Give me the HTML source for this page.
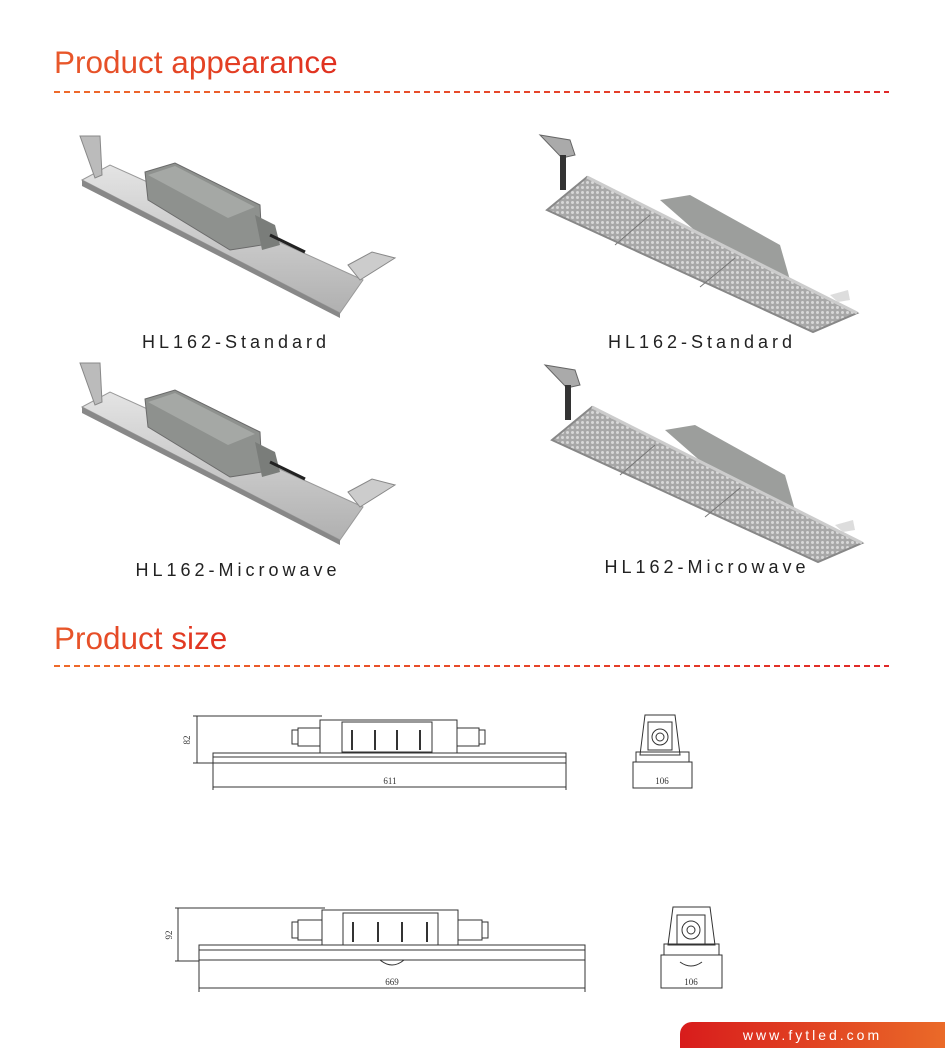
<!DOCTYPE html>
<html><head><meta charset="utf-8"><style>
html,body{margin:0;padding:0;background:#fff;}
body{width:945px;height:1048px;position:relative;overflow:hidden;font-family:"Liberation Sans",sans-serif;}
.t{position:absolute;left:54px;font-size:31.5px;color:#e8502a;background:linear-gradient(90deg,#e8582a,#e03020);-webkit-background-clip:text;background-clip:text;-webkit-text-fill-color:transparent;}
.lbl{position:absolute;font-size:18px;letter-spacing:4px;color:#222;white-space:nowrap;transform:translateX(-50%);}
.foot{position:absolute;left:680px;top:1022px;width:265px;height:26px;border-top-left-radius:12px;background:linear-gradient(90deg,#d81c1c,#ea6a28);color:#fff;font-size:14px;letter-spacing:3px;text-align:center;line-height:26px;}
svg{position:absolute;left:0;top:0;}
</style></head><body>
<div class="t" style="top:44px">Product appearance</div>
<div class="t" style="top:620px">Product size</div>
<svg width="945" height="1048" viewBox="0 0 945 1048">
<defs>
<linearGradient id="dg" gradientUnits="userSpaceOnUse" x1="54" y1="0" x2="889" y2="0"><stop offset="0" stop-color="#ee6a2a"/><stop offset="1" stop-color="#e02828"/></linearGradient>
<linearGradient id="mt" x1="0" y1="0" x2="0" y2="1"><stop offset="0" stop-color="#e4e4e4"/><stop offset="1" stop-color="#b0b0b0"/></linearGradient>
<pattern id="led" width="5" height="5" patternUnits="userSpaceOnUse"><rect width="5" height="5" fill="#a8a8a8"/><circle cx="2.5" cy="2.5" r="1.5" fill="#d8d8d8"/></pattern>
</defs>
<line x1="54" y1="92" x2="889" y2="92" stroke="url(#dg)" stroke-width="2" stroke-dasharray="6,4"/>
<line x1="54" y1="666" x2="889" y2="666" stroke="url(#dg)" stroke-width="2" stroke-dasharray="6,4"/>

<g id="lp">
<polygon points="82,180 110,165 363,280 340,313" fill="url(#mt)" stroke="#999" stroke-width="1"/>
<polygon points="82,180 340,313 340,318 82,186" fill="#888"/>
<polygon points="80,136 100,136 102,175 95,178" fill="#bbb" stroke="#888"/>
<polygon points="348,265 372,252 395,258 360,280" fill="#ccc" stroke="#888"/>
<polygon points="145,172 175,163 260,205 262,245 230,250 148,200" fill="#8e918e" stroke="#6a6a6a"/>
<polygon points="148,175 175,166 255,207 228,218" fill="#a5a8a5"/>
<polygon points="255,215 275,225 280,245 262,250" fill="#7a7d7a"/>
<line x1="270" y1="235" x2="305" y2="252" stroke="#222" stroke-width="3"/>
</g>
<use href="#lp" transform="translate(0,227)"/>

<g id="rp">
<polygon points="540,135 570,140 575,155 562,158" fill="#aaa" stroke="#666"/>
<rect x="560" y="155" width="6" height="35" fill="#333"/>
<polygon points="660,200 690,195 780,245 790,280 740,270" fill="#9c9e9c"/>
<polygon points="547,210 587,177 857,313 813,332" fill="url(#led)" stroke="#888" stroke-width="2"/>
<line x1="587" y1="177" x2="857" y2="313" stroke="#ccc" stroke-width="3"/>
<line x1="650" y1="215" x2="615" y2="245" stroke="#777"/>
<line x1="735" y1="258" x2="700" y2="287" stroke="#777"/>
<polygon points="830,295 848,290 850,300 838,302" fill="#ddd"/>
</g>
<g transform="translate(5,230)">
<use href="#rp"/>
</g>

<g fill="none" stroke="#333" stroke-width="1">
<rect x="213" y="753" width="353" height="10"/>
<line x1="213" y1="757" x2="566" y2="757"/>
<rect x="320" y="720" width="137" height="33"/>
<rect x="342" y="722" width="90" height="30"/>
<rect x="298" y="728" width="22" height="18"/><rect x="292" y="730" width="6" height="14"/>
<rect x="457" y="728" width="22" height="18"/><rect x="479" y="730" width="6" height="14"/>
<line x1="193" y1="716" x2="322" y2="716"/><line x1="193" y1="763" x2="213" y2="763"/>
<line x1="197" y1="716" x2="197" y2="763"/>
<line x1="213" y1="763" x2="213" y2="790"/><line x1="566" y1="763" x2="566" y2="790"/>
<line x1="213" y1="787" x2="566" y2="787"/>
<path d="M352 730v20M375 730v20M397 730v20M420 730v20" stroke-width="2"/>
<rect x="633" y="762" width="59" height="26"/>
<path d="M640 755l5-40h30l5 40z"/><rect x="648" y="722" width="24" height="28"/>
<circle cx="660" cy="737" r="8"/><circle cx="660" cy="737" r="4"/>
<rect x="636" y="752" width="53" height="10"/>
</g>
<g fill="none" stroke="#333" stroke-width="1">
<rect x="199" y="945" width="386" height="15"/>
<line x1="199" y1="950" x2="585" y2="950"/>
<rect x="322" y="910" width="136" height="35"/>
<rect x="343" y="913" width="95" height="32"/>
<rect x="298" y="920" width="24" height="20"/><rect x="292" y="922" width="6" height="16"/>
<rect x="458" y="920" width="24" height="20"/><rect x="482" y="922" width="6" height="16"/>
<path d="M380 960q12 10 24 0"/>
<line x1="175" y1="908" x2="325" y2="908"/><line x1="175" y1="961" x2="199" y2="961"/>
<line x1="178" y1="908" x2="178" y2="961"/>
<line x1="199" y1="960" x2="199" y2="992"/><line x1="585" y1="960" x2="585" y2="992"/>
<line x1="199" y1="988" x2="585" y2="988"/>
<path d="M353 922v20M378 922v20M402 922v20M427 922v20" stroke-width="2"/>
<rect x="661" y="955" width="61" height="33"/>
<path d="M668 945l5-38h37l5 38z"/><rect x="677" y="915" width="28" height="30"/>
<circle cx="691" cy="930" r="9"/><circle cx="691" cy="930" r="4"/>
<rect x="664" y="944" width="55" height="11"/>
<path d="M680 962q11 8 22 0"/>
</g>
<g font-family="Liberation Serif,serif" font-size="9" fill="#333" text-anchor="middle">
<text x="390" y="784">611</text>
<text x="662" y="784">106</text>
<text x="392" y="985">669</text>
<text x="691" y="985">106</text>
<text transform="translate(190,740) rotate(-90)">82</text>
<text transform="translate(172,935) rotate(-90)">92</text>
</g>
</svg>
<div class="lbl" style="left:236px;top:332px">HL162-Standard</div>
<div class="lbl" style="left:702px;top:332px">HL162-Standard</div>
<div class="lbl" style="left:238px;top:560px">HL162-Microwave</div>
<div class="lbl" style="left:707px;top:557px">HL162-Microwave</div>
<div class="foot">www.fytled.com</div>
</body></html>
